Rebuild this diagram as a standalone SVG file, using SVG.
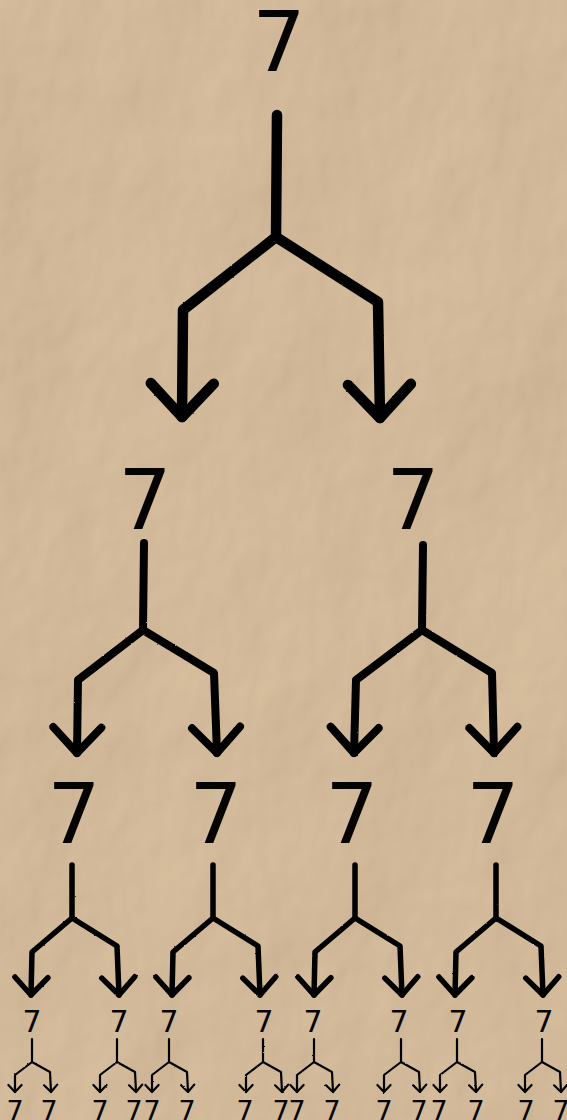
<svg xmlns="http://www.w3.org/2000/svg" width="567" height="1120" viewBox="0 0 567 1120">
<defs>
<style>
.n{font-family:"DejaVu Sans","Liberation Sans",sans-serif;fill:#050403;text-anchor:middle}
.l0{font-size:84px}
.l3{font-size:30px}
.l4{font-size:27px}
.c{fill:none;stroke:#050403;stroke-linecap:round;stroke-linejoin:round}
.w0{stroke-width:10.5}
.w1{stroke-width:8}
.w2{stroke-width:5.5}
.w3{stroke-width:2.2}
.a{marker-end:url(#arr)}
</style>
<marker id="arr" markerUnits="strokeWidth" markerWidth="10" markerHeight="10" refX="0" refY="0" orient="auto" overflow="visible">
<path d="M-3.2,-3.0 L0,0 L-3.2,3.0" fill="none" stroke="#050403" stroke-width="1" stroke-linecap="round" stroke-linejoin="round"/>
</marker>
<filter id="paper" x="0" y="0" width="567" height="1120" filterUnits="userSpaceOnUse">
<feTurbulence type="fractalNoise" baseFrequency="0.005 0.0035" numOctaves="5" seed="11" result="n"/>
<feDiffuseLighting in="n" lighting-color="#ffffff" surfaceScale="7" result="l">
<feDistantLight azimuth="225" elevation="62"/>
</feDiffuseLighting>
<feComposite in="SourceGraphic" in2="l" operator="arithmetic" k1="1.1" k2="0" k3="0" k4="0"/>
</filter>
<filter id="rough" x="-5%" y="-5%" width="110%" height="110%">
<feTurbulence type="fractalNoise" baseFrequency="0.9" numOctaves="2" seed="2" result="t"/>
<feDisplacementMap in="SourceGraphic" in2="t" scale="1.6" xChannelSelector="R" yChannelSelector="G"/>
</filter>
</defs>
<rect x="0" y="0" width="567" height="1120" fill="#d4bb9b" filter="url(#paper)"/>

<g id="connectors" filter="url(#rough)">
<g id="tree-0">
<path class="c w0 a" d="M277,115 L276,237 L183,310 L182,417"/>
<path class="c w0 a" d="M276,237 L378,302 L380,418"/>
</g>
<g id="tree-1">
<path class="c w1 a" d="M144,543 L143,630 L78,680 L77,753"/>
<path class="c w1 a" d="M143,630 L214,673 L217,753"/>
<path class="c w1 a" d="M423,545 L422,630 L356,680 L354,753"/>
<path class="c w1 a" d="M422,630 L492,673 L494,753"/>
</g>
<g id="tree-2">
<path class="c w2 a" d="M72,865 L72,918 L32,952 L31,995"/>
<path class="c w2 a" d="M72,918 L117,946 L119,995"/>
<path class="c w2 a" d="M213,865 L213,918 L173,952 L172,995"/>
<path class="c w2 a" d="M213,918 L258,946 L260,995"/>
<path class="c w2 a" d="M355,865 L355,918 L315,952 L314,995"/>
<path class="c w2 a" d="M355,918 L400,946 L402,995"/>
<path class="c w2 a" d="M496,865 L496,918 L456,952 L455,995"/>
<path class="c w2 a" d="M496,918 L541,946 L543,995"/>
</g>
<g id="tree-3">
<path class="c w3 a" d="M32,1039 L32,1062 L15,1075 L15,1092"/>
<path class="c w3 a" d="M32,1062 L50,1072 L51,1092"/>
<path class="c w3 a" d="M117,1039 L117,1062 L100,1075 L100,1092"/>
<path class="c w3 a" d="M117,1062 L135,1072 L136,1092"/>
<path class="c w3 a" d="M169,1039 L169,1062 L152,1075 L152,1092"/>
<path class="c w3 a" d="M169,1062 L187,1072 L188,1092"/>
<path class="c w3 a" d="M263,1039 L263,1062 L246,1075 L246,1092"/>
<path class="c w3 a" d="M263,1062 L281,1072 L282,1092"/>
<path class="c w3 a" d="M314,1039 L314,1062 L297,1075 L297,1092"/>
<path class="c w3 a" d="M314,1062 L332,1072 L333,1092"/>
<path class="c w3 a" d="M401,1039 L401,1062 L384,1075 L384,1092"/>
<path class="c w3 a" d="M401,1062 L419,1072 L420,1092"/>
<path class="c w3 a" d="M457,1039 L457,1062 L440,1075 L440,1092"/>
<path class="c w3 a" d="M457,1062 L475,1072 L476,1092"/>
<path class="c w3 a" d="M542,1039 L542,1062 L525,1075 L525,1092"/>
<path class="c w3 a" d="M542,1062 L560,1072 L561,1092"/>
</g>
</g>

<g id="node-0"><text class="n l0" x="279" y="71">7</text></g>
<g id="node-1a"><text class="n l0" x="145" y="529">7</text></g>
<g id="node-1b"><text class="n l0" x="413" y="529">7</text></g>
<g id="node-2a"><text class="n l0" x="74" y="843">7</text></g>
<g id="node-2b"><text class="n l0" x="216" y="843">7</text></g>
<g id="node-2c"><text class="n l0" x="352" y="843">7</text></g>
<g id="node-2d"><text class="n l0" x="493" y="843">7</text></g>
<g id="node-3a"><text class="n l3" x="32" y="1032">7</text></g>
<g id="node-3b"><text class="n l3" x="119" y="1032">7</text></g>
<g id="node-3c"><text class="n l3" x="169" y="1032">7</text></g>
<g id="node-3d"><text class="n l3" x="264" y="1032">7</text></g>
<g id="node-3e"><text class="n l3" x="313" y="1032">7</text></g>
<g id="node-3f"><text class="n l3" x="399" y="1032">7</text></g>
<g id="node-3g"><text class="n l3" x="458" y="1032">7</text></g>
<g id="node-3h"><text class="n l3" x="544" y="1032">7</text></g>
<g id="node-4a"><text class="n l4" x="15" y="1120">7</text></g>
<g id="node-4b"><text class="n l4" x="49" y="1120">7</text></g>
<g id="node-4c"><text class="n l4" x="100" y="1120">7</text></g>
<g id="node-4d"><text class="n l4" x="134" y="1120">7</text></g>
<g id="node-4e"><text class="n l4" x="152" y="1120">7</text></g>
<g id="node-4f"><text class="n l4" x="187" y="1120">7</text></g>
<g id="node-4g"><text class="n l4" x="245" y="1120">7</text></g>
<g id="node-4h"><text class="n l4" x="281" y="1120">7</text></g>
<g id="node-4i"><text class="n l4" x="297" y="1120">7</text></g>
<g id="node-4j"><text class="n l4" x="332" y="1120">7</text></g>
<g id="node-4k"><text class="n l4" x="384" y="1120">7</text></g>
<g id="node-4l"><text class="n l4" x="419" y="1120">7</text></g>
<g id="node-4m"><text class="n l4" x="439" y="1120">7</text></g>
<g id="node-4n"><text class="n l4" x="476" y="1120">7</text></g>
<g id="node-4o"><text class="n l4" x="526" y="1120">7</text></g>
<g id="node-4p"><text class="n l4" x="561" y="1120">7</text></g>
</svg>
